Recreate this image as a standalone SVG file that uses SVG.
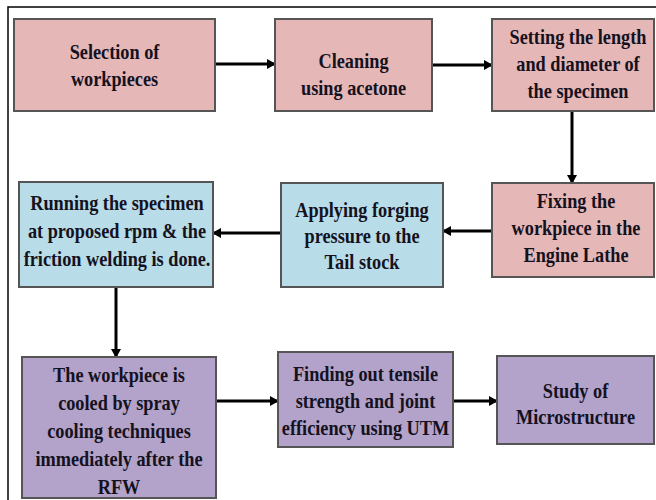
<svg xmlns="http://www.w3.org/2000/svg" width="656" height="500" viewBox="0 0 656 500">
<defs>
<style>
.box{stroke:#555;stroke-width:2}
.pink{fill:#e6b7b7}
.blue{fill:#b8dce8}
.purple{fill:#b3a2c9}
.t{font-family:"Liberation Serif","Times New Roman",serif;font-weight:bold;font-size:21px;fill:#14121e;text-anchor:middle}
.c{stroke:#000;stroke-width:3;fill:none;marker-end:url(#ah)}
</style>
<marker id="ah" markerUnits="userSpaceOnUse" markerWidth="9" markerHeight="10" refX="8" refY="5" orient="auto">
<path d="M0,0 L9,5 L0,10 z" fill="#000"/>
</marker>
</defs>
<rect x="0" y="0" width="656" height="500" fill="#fff"/>
<rect x="8" y="7" width="660" height="510" fill="none" stroke="#000" stroke-width="1.5"/>
<g id="connectors">
<line class="c" x1="216" y1="64" x2="275" y2="64"/>
<line class="c" x1="433" y1="65" x2="492" y2="65"/>
<line class="c" x1="572" y1="112" x2="572" y2="183"/>
<line class="c" x1="492" y1="231" x2="443" y2="231"/>
<line class="c" x1="281" y1="233" x2="213" y2="233"/>
<line class="c" x1="116" y1="288" x2="116" y2="357"/>
<line class="c" x1="217" y1="401" x2="278" y2="401"/>
<line class="c" x1="454" y1="401" x2="497" y2="401"/>
</g>
<g id="n1">
<rect class="box pink" x="14" y="19" width="201" height="92"/>
<text class="t" transform="translate(114.5,59) scale(0.87,1)">Selection of</text>
<text class="t" transform="translate(114.5,86) scale(0.87,1)">workpieces</text>
</g>
<g id="n2">
<rect class="box pink" x="275" y="19" width="157" height="92"/>
<text class="t" transform="translate(353.5,68) scale(0.87,1)">Cleaning</text>
<text class="t" transform="translate(353.5,95) scale(0.87,1)">using acetone</text>
</g>
<g id="n3">
<rect class="box pink" x="492" y="19" width="162" height="92"/>
<text class="t" transform="translate(578,44) scale(0.87,1)">Setting the length</text>
<text class="t" transform="translate(578,71) scale(0.87,1)">and diameter of</text>
<text class="t" transform="translate(578,98) scale(0.87,1)">the specimen</text>
</g>
<g id="n4">
<rect class="box pink" x="492" y="183" width="162" height="94"/>
<text class="t" transform="translate(576,208) scale(0.87,1)">Fixing the</text>
<text class="t" transform="translate(576,235) scale(0.87,1)">workpiece in the</text>
<text class="t" transform="translate(576,262) scale(0.87,1)">Engine Lathe</text>
</g>
<g id="n5">
<rect class="box blue" x="281" y="183" width="162" height="104"/>
<text class="t" transform="translate(362,217) scale(0.87,1)">Applying forging</text>
<text class="t" transform="translate(362,243) scale(0.87,1)">pressure to the</text>
<text class="t" transform="translate(362,269) scale(0.87,1)">Tail stock</text>
</g>
<g id="n6">
<rect class="box blue" x="19" y="182" width="194" height="105"/>
<text class="t" transform="translate(117,210) scale(0.87,1)">Running the specimen</text>
<text class="t" transform="translate(117,238) scale(0.87,1)">at proposed rpm &amp; the</text>
<text class="t" transform="translate(117,266) scale(0.87,1)">friction welding is done.</text>
</g>
<g id="n7">
<rect class="box purple" x="22" y="357" width="194" height="141"/>
<text class="t" transform="translate(119,382) scale(0.87,1)">The workpiece is</text>
<text class="t" transform="translate(119,410) scale(0.87,1)">cooled by spray</text>
<text class="t" transform="translate(119,438) scale(0.87,1)">cooling techniques</text>
<text class="t" transform="translate(119,466) scale(0.87,1)">immediately after the</text>
<text class="t" transform="translate(119,494) scale(0.87,1)">RFW</text>
</g>
<g id="n8">
<rect class="box purple" x="278" y="352" width="175" height="95"/>
<text class="t" transform="translate(365.5,381) scale(0.87,1)">Finding out tensile</text>
<text class="t" transform="translate(365.5,408) scale(0.87,1)">strength and joint</text>
<text class="t" transform="translate(365.5,435) scale(0.87,1)">efficiency using UTM</text>
</g>
<g id="n9">
<rect class="box purple" x="497" y="356" width="157" height="88"/>
<text class="t" transform="translate(575.5,398) scale(0.87,1)">Study of</text>
<text class="t" transform="translate(575.5,424) scale(0.87,1)">Microstructure</text>
</g>
</svg>
